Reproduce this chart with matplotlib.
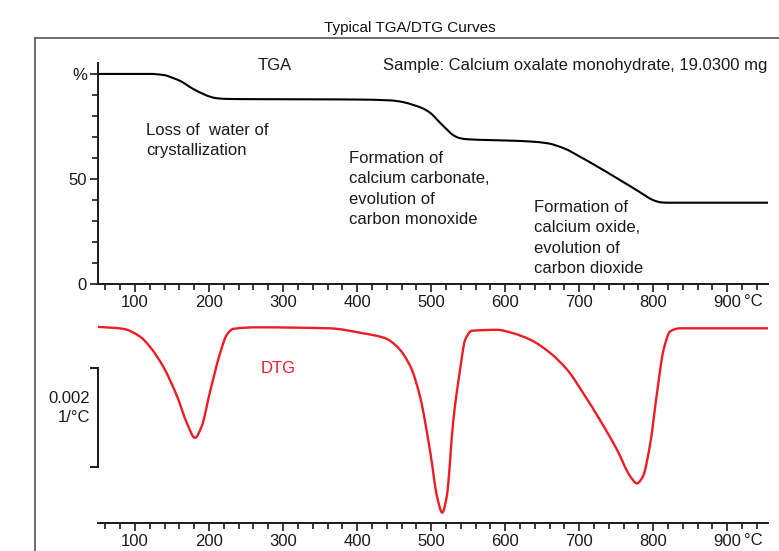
import matplotlib.pyplot as plt
from matplotlib.lines import Line2D
from matplotlib.path import Path
from matplotlib.patches import PathPatch
from matplotlib.ticker import MultipleLocator, FixedLocator

plt.rcParams['font.family'] = ['Liberation Sans', 'DejaVu Sans']

# TGA curve (temperature in degC, mass in %)
tga_temp = [50, 120, 140, 151, 163, 174, 183, 192, 201, 211, 225, 250, 350, 400,
            445, 462, 476, 488, 499, 510, 522, 530, 538, 549, 580, 611, 635, 657,
            680, 701, 724, 746, 762, 778, 790, 800, 810, 819, 955]
tga_mass = [100, 100, 99.4, 98.1, 96.3, 93.8, 92.0, 90.5, 89.2, 88.4, 88.1, 88.0, 87.9, 87.8,
            87.4, 86.6, 85.2, 83.7, 81.4, 77.5, 73.3, 70.8, 69.5, 68.9, 68.5, 68.2, 67.8, 67.0,
            64.5, 60.6, 56.0, 51.4, 48.0, 44.6, 41.9, 39.9, 38.9, 38.7, 38.7]

# DTG curve (1/degC)
dtg_temp = [50, 84, 107, 120, 138, 157, 170, 181, 190, 201, 215, 224, 233, 265, 363,
            408, 438, 454, 472, 485, 499, 508, 515, 521, 530, 539, 546, 555, 589,
            611, 634, 661, 684, 705, 728, 751, 769, 778, 786, 796, 805, 814, 823, 836, 955]
dtg_val = [0.0, -0.00004, -0.00020, -0.00040, -0.00080, -0.00141, -0.00194, -0.00224,
           -0.00201, -0.00133, -0.00053, -0.00016, -0.00004, -0.00001, -0.00003,
           -0.00013, -0.00023, -0.00040, -0.00080, -0.00141, -0.00255, -0.00343,
           -0.00375, -0.00343, -0.00188, -0.00087, -0.00026, -0.00008, -0.00006,
           -0.00013, -0.00026, -0.00053, -0.00087, -0.00133, -0.00188, -0.00248,
           -0.00302, -0.00316, -0.00302, -0.00235, -0.00134, -0.00046, -0.00009,
           -0.00003, -0.00003]

x_major = [100, 200, 300, 400, 500, 600, 700, 800, 900]
x_labels = ['100', '200', '300', '400', '500', '600', '700', '800', '900']

W, H = 779, 551
FS = 12
LS = 1.45
fig = plt.figure(figsize=(W / 100, H / 100), dpi=100)
fig.patch.set_facecolor('white')


def box(l, t, r, b):
    return [l / W, 1 - b / H, (r - l) / W, (b - t) / H]


def smooth_line(ax, x, y, **kw):
    # monotone cubic (fritsch-carlson slopes) through the read points, as bezier segments
    n = len(x)
    h = [x[i + 1] - x[i] for i in range(n - 1)]
    d = [(y[i + 1] - y[i]) / h[i] for i in range(n - 1)]
    m = [d[0]] + [0.0] * (n - 2) + [d[-1]]
    for k in range(1, n - 1):
        if d[k - 1] * d[k] > 0:
            w1 = 2 * h[k] + h[k - 1]
            w2 = h[k] + 2 * h[k - 1]
            m[k] = (w1 + w2) / (w1 / d[k - 1] + w2 / d[k])
    verts = [(x[0], y[0])]
    codes = [Path.MOVETO]
    for i in range(n - 1):
        verts += [(x[i] + h[i] / 3, y[i] + m[i] * h[i] / 3),
                  (x[i + 1] - h[i] / 3, y[i + 1] - m[i + 1] * h[i] / 3),
                  (x[i + 1], y[i + 1])]
        codes += [Path.CURVE4] * 3
    ax.add_patch(PathPatch(Path(verts, codes), fill=False, capstyle='round',
                           joinstyle='round', **kw))


# frame round the whole chart
fig.add_artist(Line2D([35 / W, 35 / W], [1 - 38 / H, 0], color='#555555', lw=1.2))
fig.add_artist(Line2D([35 / W, 1], [1 - 38 / H, 1 - 38 / H], color='#555555', lw=1.2))
fig.text(410 / W, 1 - 28 / H, 'Typical TGA/DTG Curves', ha='center', va='center',
         fontsize=11, color='#111111')

ink = '#1a1a1a'

# ---- TGA panel
ax = fig.add_axes(box(98, 63, 768, 284))
smooth_line(ax, tga_temp, tga_mass, edgecolor='black', lw=1.5)
ax.set_xlim(50, 955)
ax.set_ylim(0, 105.2)
for s in ['top', 'right']:
    ax.spines[s].set_visible(False)
for s in ['left', 'bottom']:
    ax.spines[s].set_linewidth(1.4)
    ax.spines[s].set_color(ink)
ax.xaxis.set_major_locator(FixedLocator(x_major))
ax.set_xticklabels(x_labels)
ax.xaxis.set_minor_locator(MultipleLocator(20))
ax.yaxis.set_major_locator(FixedLocator([0, 50, 100]))
ax.set_yticklabels(['0', '50', '%'])
ax.yaxis.set_minor_locator(MultipleLocator(10))
ax.tick_params(which='major', length=6, width=1.2, color=ink, labelsize=FS,
               labelcolor=ink, pad=2)
ax.tick_params(which='minor', length=4, width=1.2, color=ink)
ax.text(935, -8.3, '°C', ha='center', va='center', fontsize=FS, color=ink)

ax.text(265, 103.8, 'TGA', fontsize=FS, va='center', color=ink)
ax.text(435, 103.8, 'Sample: Calcium oxalate monohydrate, 19.0300 mg',
        fontsize=FS, va='center', color=ink)
ax.text(115, 76.7, 'Loss of  water of\ncrystallization', fontsize=FS,
        va='top', color=ink, linespacing=LS)
ax.text(389, 63.3, 'Formation of\ncalcium carbonate,\nevolution of\ncarbon monoxide',
        fontsize=FS, va='top', color=ink, linespacing=LS)
ax.text(639, 40.0, 'Formation of\ncalcium oxide,\nevolution of\ncarbon dioxide',
        fontsize=FS, va='top', color=ink, linespacing=LS)

# ---- DTG panel
ax2 = fig.add_axes(box(98, 310, 768, 523))
smooth_line(ax2, dtg_temp, dtg_val, edgecolor='#ee1c24', lw=1.7)
ax2.set_xlim(50, 955)
ax2.set_ylim(-0.00396, 0.00034)
for s in ['top', 'right', 'left']:
    ax2.spines[s].set_visible(False)
ax2.spines['bottom'].set_linewidth(1.4)
ax2.spines['bottom'].set_color(ink)
ax2.set_yticks([])
ax2.xaxis.set_major_locator(FixedLocator(x_major))
ax2.set_xticklabels(x_labels)
ax2.xaxis.set_minor_locator(MultipleLocator(20))
ax2.tick_params(which='major', length=6, width=1.2, color=ink, labelsize=FS,
                labelcolor=ink, pad=2)
ax2.tick_params(which='minor', length=4, width=1.2, color=ink)
ax2.text(935, -0.00431, '°C', ha='center', va='center', fontsize=FS, color=ink)
ax2.text(270, -0.00085, 'DTG', fontsize=FS, va='center', color='#ee1c24')

# scale bar 0.002 1/degC
tr = ax2.get_yaxis_transform()
bar_top, bar_bot = -0.00083, -0.00283
ax2.plot([0, 0], [bar_top, bar_bot], color=ink, lw=1.4, transform=tr, clip_on=False)
ax2.plot([-0.011, 0], [bar_top, bar_top], color=ink, lw=1.4, transform=tr, clip_on=False)
ax2.plot([-0.011, 0], [bar_bot, bar_bot], color=ink, lw=1.4, transform=tr, clip_on=False)
ax2.text(-0.012, -0.00164, '0.002\n1/°C', transform=tr, ha='right',
         va='center', fontsize=FS, color=ink, linespacing=1.4, multialignment='right')

fig.savefig('out.png', dpi=100)
